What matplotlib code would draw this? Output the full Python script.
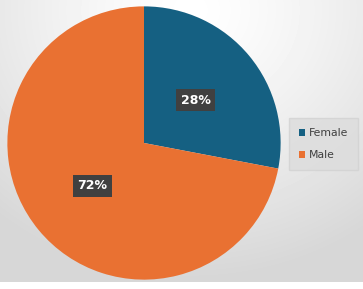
import numpy as np
import matplotlib.pyplot as plt
from matplotlib.patches import Patch

# data
labels = ["Female", "Male"]
shares = [28, 72]
colors = ["#156082", "#E97132"]

W, H = 363, 289
fig = plt.figure(figsize=(W / 100, H / 100), dpi=100)
fig.patch.set_facecolor("white")

# radial gradient background (chart area ends a few px above the bottom)
bg = fig.add_axes([0, 7 / H, 1, 1 - 7 / H])
yy, xx = np.mgrid[0:282, 0:W]
d = np.sqrt(((xx - 190) / 300.0) ** 2 + ((yy - 10) / 270.0) ** 2)
shade = 1.0 - 0.16 * np.clip(d, 0, 1) ** 1.3
bg.imshow(shade, cmap="gray", vmin=0, vmax=1, extent=[0, W, 282, 0], aspect="auto")
bg.set_xlim(0, W)
bg.set_ylim(282, 0)
bg.axis("off")

# pie
ax = fig.add_axes([6 / W, 8 / H, 276 / W, 276 / H])
wedges, texts, autotexts = ax.pie(
    shares, colors=colors, startangle=90, counterclock=False,
    autopct="%d%%", pctdistance=0.49, radius=1,
    wedgeprops=dict(linewidth=0),
    textprops=dict(color="white", fontsize=9, fontweight="bold"),
)
for t in autotexts:
    t.set_bbox(dict(boxstyle="square,pad=0.35", facecolor="#404040",
                    edgecolor="none"))
ax.set_xlim(-1.01, 1.01)
ax.set_ylim(-1.01, 1.01)
ax.set_aspect("equal")
ax.axis("off")

# legend
handles = [Patch(facecolor=c, edgecolor="none") for c in colors]
leg = fig.legend(handles, labels, loc="center left",
                 bbox_to_anchor=(289 / W, 1 - 144 / H), borderaxespad=0,
                 frameon=True, fontsize=7.8, handlelength=0.6, handleheight=0.6,
                 handletextpad=0.35, labelspacing=1.1, borderpad=0.9,
                 labelcolor="#404040", fancybox=False)
leg.get_frame().set_facecolor("#dcdcdc")
leg.get_frame().set_edgecolor("#d2d2d2")

fig.savefig("out.png", dpi=100)
